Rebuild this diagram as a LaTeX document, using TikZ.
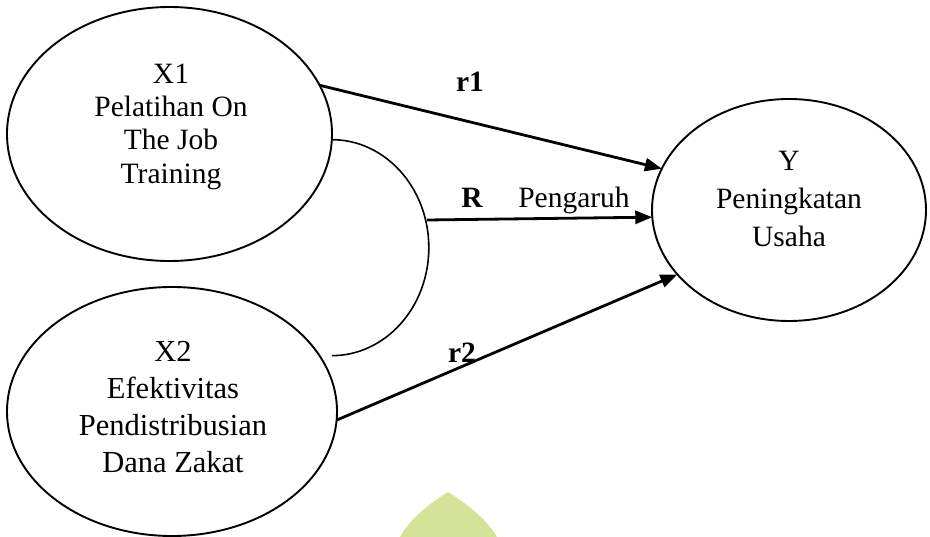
\documentclass[tikz,border=0pt]{standalone}
\usepackage{fontspec}
\setmainfont{Liberation Serif}
\usetikzlibrary{shapes.geometric,arrows.meta}
\definecolor{wm}{RGB}{212,227,152}
\begin{document}
\begin{tikzpicture}[x=1pt,y=-1pt,
  ell/.style={draw, ellipse, line width=1.9pt, inner sep=0pt, outer sep=0pt},
  txt/.style={align=center, inner sep=0pt},
  lab/.style={inner sep=0pt, anchor=base, font=\fontsize{29.5}{33}\selectfont},
  arr/.style={line width=2.8pt, -{Triangle[length=17pt,width=13pt]}},
  curvel/.style={line width=1.6pt}]
\useasboundingbox (0,0) rectangle (930,537);
% watermark shape
\fill[wm] (448,492) .. controls (432,502) and (410,518) .. (400,537) -- (497,537) .. controls (486,518) and (464,502) .. (448,492) -- cycle;
% ellipses
\node[ell, minimum width=325pt, minimum height=254pt] (X1) at (169.5,134) {};
\node[ell, minimum width=330pt, minimum height=249pt] (X2) at (172,411.5) {};
\node[ell, minimum width=274pt, minimum height=222pt] (Y) at (789,210) {};
% texts
\node[txt, font=\fontsize{29.5}{33.3}\selectfont] (X1t) at (171,126.5) {X1\\Pelatihan On\\The Job\\Training};
\node[txt, font=\fontsize{30.5}{37}\selectfont] (X2t) at (173,407) {X2\\Efektivitas\\Pendistribusian\\Dana Zakat};
\node[txt, font=\fontsize{29.5}{38}\selectfont] (Yt) at (789,199) {Y\\Peningkatan\\Usaha};
% curve joining X1 and X2
\draw[curvel] (X1.-2.5) arc[start angle=-90, end angle=90, x radius=97, y radius=108] coordinate (Ce);
\coordinate (Rs) at (427,220);
% arrows
\draw[arr] (X1.18) -- (Y.162.5);
\draw[arr] (Rs) -- (Y.183);
\draw[arr] (X2.-3) -- (Y.210);
% labels
\node[lab, font=\fontsize{29.5}{33}\selectfont\bfseries] (r1) at (470,92) {r1};
\node[lab, font=\fontsize{29.5}{33}\selectfont\bfseries] (R) at (472,208) {R};
\node[lab] (P) at (574,208) {Pengaruh};
\node[lab, font=\fontsize{29.5}{33}\selectfont\bfseries] (r2) at (462,363) {r2};
\end{tikzpicture}
\end{document}
